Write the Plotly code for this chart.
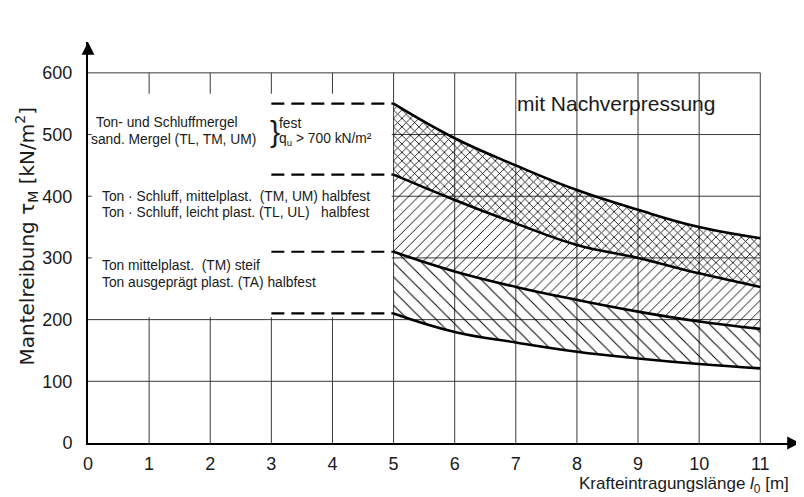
import plotly.graph_objects as go

# ---- data ----
x_ticks = [0, 1, 2, 3, 4, 5, 6, 7, 8, 9, 10, 11]
y_ticks = [0, 100, 200, 300, 400, 500, 600]
x_len = [5, 6, 7, 8, 9, 10, 11]
tau_fest = [550, 494, 450, 410, 378, 350, 332]
tau_halbfest = [435, 394, 356, 321, 300, 275, 253]
tau_steif_top = [310, 278, 253, 232, 213, 197, 185]
tau_steif_bottom = [210, 180, 163, 148, 137, 128, 121]
dash_levels = [550, 435, 310, 210]

SANS = "Liberation Sans, Arial, sans-serif"
WIDE = "DejaVu Sans, sans-serif"
INK = "#1a1a1a"

fig = go.Figure()

# grid drawn as line segments within [0,11] x [0,600]
gx, gy = [], []
for xv in x_ticks[1:]:
    gx += [xv, xv, None]
    gy += [0, y_ticks[-1], None]
for yv in y_ticks[1:]:
    gx += [0, x_ticks[-1], None]
    gy += [yv, yv, None]
fig.add_trace(go.Scatter(x=gx, y=gy, mode="lines", line=dict(color="#3a3a3a", width=1),
                         hoverinfo="skip", showlegend=False))

line_style = dict(color="black", width=2.6, shape="spline", smoothing=1.2)

fig.add_trace(go.Scatter(x=x_len, y=tau_steif_bottom, mode="lines", line=line_style,
                         showlegend=False))
fig.add_trace(go.Scatter(x=x_len, y=tau_steif_top, mode="lines", line=line_style,
                         fill="tonexty", fillcolor="rgba(0,0,0,0)",
                         fillpattern=dict(shape="\\", fgcolor="black", bgcolor="rgba(0,0,0,0)",
                                          size=10, solidity=0.1, fillmode="replace"),
                         showlegend=False))
fig.add_trace(go.Scatter(x=x_len, y=tau_halbfest, mode="lines", line=line_style,
                         fill="tonexty", fillcolor="rgba(0,0,0,0)",
                         fillpattern=dict(shape="/", fgcolor="black", bgcolor="rgba(0,0,0,0)",
                                          size=7, solidity=0.13, fillmode="replace"),
                         showlegend=False))
fig.add_trace(go.Scatter(x=x_len, y=tau_fest, mode="lines", line=line_style,
                         fill="tonexty", fillcolor="rgba(0,0,0,0)",
                         fillpattern=dict(shape="x", fgcolor="black", bgcolor="rgba(0,0,0,0)",
                                          size=6, solidity=0.25, fillmode="replace"),
                         showlegend=False))

shapes = [
    dict(type="rect", xref="x", yref="y", x0=0.06, x1=4.97, y0=204, y1=566,
         fillcolor="white", line=dict(width=0), layer="above"),
]
for lv in dash_levels:
    shapes.append(dict(type="line", xref="x", yref="y", x0=3, x1=5, y0=lv, y1=lv,
                       line=dict(color="black", width=2.2, dash="13px,7px"), layer="above"))

def txt(x, y, s, size=13.8, anchor="left", font=SANS):
    return dict(x=x, y=y, xref="x", yref="y", text=s, showarrow=False,
                xanchor=anchor, yanchor="middle", font=dict(family=font, size=size, color=INK))

annotations = [
    txt(0.1, 519, "Ton- und Schluffmergel"),
    txt(0.02, 492, "sand. Mergel (TL, TM, UM)"),
    txt(2.95, 505, "}", size=30),
    txt(3.1, 518, "fest"),
    txt(3.1, 492, "q<sub>u</sub> > 700 kN/m²"),
    txt(0.2, 399, "Ton · Schluff, mittelplast.  (TM, UM) halbfest"),
    txt(0.2, 373, "Ton · Schluff, leicht plast. (TL, UL)   halbfest"),
    txt(0.2, 287, "Ton mittelplast.  (TM) steif"),
    txt(0.2, 260, "Ton ausgeprägt plast. (TA) halbfest"),
    txt(6.98, 550, "mit Nachverpressung", size=21),
    # axis arrows
    dict(x=0, y=650, xref="x", yref="y", ax=0, ay=14,
         showarrow=True, arrowhead=2, arrowsize=1.6, arrowwidth=1.6, arrowcolor="black", text=""),
    dict(x=11.65, y=0, xref="x", yref="y", ax=-14, ay=0,
         showarrow=True, arrowhead=2, arrowsize=1.6, arrowwidth=1.6, arrowcolor="black", text=""),
    # axis titles
    dict(x=-0.0857, y=0.515, xref="paper", yref="paper", textangle=-90, showarrow=False,
         xanchor="center", yanchor="middle",
         text="Mantelreibung τ<sub>M</sub> [kN/m<sup>2</sup>]",
         font=dict(family=WIDE, size=20, color=INK)),
    dict(x=0.837, y=-0.105, xref="paper", yref="paper", showarrow=False,
         xanchor="center", yanchor="middle",
         text="Krafteintragungslänge <i>l</i><sub>0</sub> [m]",
         font=dict(family=SANS, size=17, color=INK)),
]

fig.update_layout(
    width=796, height=489,
    margin=dict(l=80, r=4, t=34, b=54),
    paper_bgcolor="white", plot_bgcolor="white",
    shapes=shapes, annotations=annotations,
    xaxis=dict(range=[0, 11.65], tickvals=x_ticks, showgrid=False, zeroline=False,
               showline=True, linecolor="black", linewidth=2, ticks="",
               ticklabelstandoff=3,
               tickfont=dict(family=SANS, size=18, color=INK)),
    yaxis=dict(range=[0, 650], tickvals=y_ticks, showgrid=False, zeroline=False,
               showline=True, linecolor="black", linewidth=2, ticks="",
               ticklabelstandoff=10,
               tickfont=dict(family=SANS, size=18, color=INK)),
)

fig.write_html("out.html")
